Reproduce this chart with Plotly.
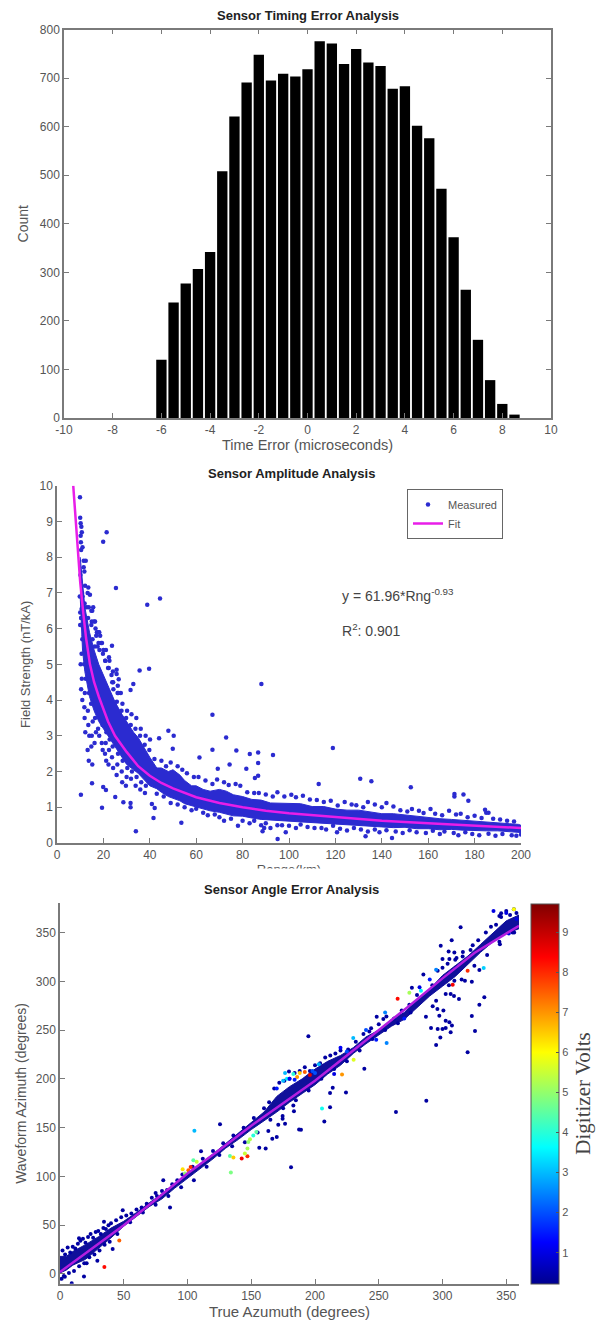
import plotly.graph_objects as go

# ---------- panel 1: histogram ----------
hist_centers = [-6,-5.5,-5,-4.5,-4,-3.5,-3,-2.5,-2,-1.5,-1,-0.5,0,0.5,1,1.5,2,2.5,3,3.5,4,4.5,5,5.5,6,6.5,7,7.5,8,8.5]
hist_counts = [120,238,277,307,342,508,621,691,748,695,709,703,718,776,771,729,760,732,725,678,683,602,576,472,372,264,161,78,29,7]
hist_xticks = [-10,-8,-6,-4,-2,0,2,4,6,8,10]
hist_xlabels = ["-10","-8","-6","-4","-2","0","2","4","6","8","10"]
hist_yticks = [0,100,200,300,400,500,600,700,800]

# ---------- panel 2: amplitude ----------
amp_xticks = [0,20,40,60,80,100,120,140,160,180,200]
amp_yticks = [0,1,2,3,4,5,6,7,8,9,10]
fit_x = [7,8,9,10,11.3,12.5,14.2,16,18,20,22,25,30,35,40,45,50,60,70,80,90,100,120,140,160,180,200]
fit_y = [10,9.1,8.2,7.3,6.45,5.75,5.0,4.5,4.1,3.75,3.4,3.0,2.55,2.15,1.88,1.68,1.53,1.28,1.12,1.0,.9,.83,.72,.62,.55,.48,.42]
band_x = [10,11,12,14,16,18,20,22,25,28,30,33,35,38,40,43,45,48,50,53,55,58,60,63,66,70,73,76,80,84,88,92,96,100,105,110,115,120,125,130,135,140,145,150,155,160,165,170,175,180,185,190,195,199,200.5]
band_hi = [8.0,7.3,6.6,5.9,5.4,5.0,4.7,4.4,3.95,3.6,3.4,3.1,2.95,2.6,2.4,2.1,2.1,2.0,2.05,1.9,1.75,1.6,1.6,1.5,1.45,1.5,1.45,1.35,1.3,1.22,1.2,1.12,1.12,1.1,1.1,1.02,1.02,.95,.92,.92,.88,.82,.82,.78,.76,.72,.68,.66,.64,.6,.58,.56,.54,.52,.48]
band_lo = [6.9,5.4,4.8,4.1,3.7,3.4,3.2,3.0,2.7,2.4,2.2,2.05,1.95,1.75,1.6,1.52,1.42,1.3,1.25,1.18,1.1,1.05,1.02,.96,.9,.86,.82,.76,.75,.7,.66,.65,.62,.62,.58,.56,.54,.54,.5,.48,.47,.45,.43,.44,.4,.4,.37,.38,.36,.34,.34,.34,.32,.3,.29]
meas_x = [9.9,21.4,19.9,25.4,38.9,44.4,23.7,35.6,39.7,25.7,25.7,26.6,32.9,31.7,26.4,88.1,67,72.9,48,50.3,44,49.9,67,77.3,83.1,86.7,93.1,61.4,86.7,74.4,69.3,81.6,86.7,85.3,10.3,15.1,19.4,19.9,21.1,25.1,28.6,31.7,31.7,34,41.6,40.9,42.1,53.6,95.1,98.6,88.6,89.3,118.9,112.8,130.7,135.5,152.5,171.3,171.3,175.2,177.3,144.4,133,120.7,184.5,186]
meas_y = [9.68,8.7,8.43,7.14,6.67,6.84,5.52,4.83,4.88,4.85,4.73,4.58,4.45,4.28,4.2,4.45,3.59,2.95,3.14,3,2.93,2.64,2.61,2.59,2.49,2.53,2.46,2.39,2.24,2.2,2.08,2.08,1.88,1.82,1.35,1.67,.99,1.57,1.48,1.29,1.14,1.12,1,.33,.7,1.09,.98,.57,.11,.3,.33,.42,2.66,1.65,1.8,1.73,1.56,1.37,1.3,1.36,1.18,.14,.19,.3,.93,.85]
# points read around the dense left cloud
left_x = [10,10.2,10.5,10.2,10.7,10.3,11,11.5,10.4,12.4,11.5,13.5,14.2,10,10.6,9.8,11.7,10,10.4,11,12.8,14.8,15.6,15,16.6,17.2,16,17.8,18.6,17.5,19,20,20.8,22.4,22,23.5,24.2,26.2,27.5,10.1,10.8,10.5,10.3,10.9,10.6,10.2,10.7,10.4,10.9,11.8,12.1,11.9,12.3,11.6,12.2,11.7,12.4,12,11.8,11.9,12.2,13.2,13.7,13.4,13.9,13.1,13.6,13.8,13.3,13.5,13.9,13.2,13.7,15.2,14.8,15.3,14.9,15.1,14.7,15.4,15,14.8,15.2,16.4,16.9,16.3,16.7,16.4,16.8,16.2,18.2,17.9,18.3,18.1,17.7,18.2,19.4,19.8,19.6,19.3,19.7,21.1,20.8,21.3,21,20.7,21.2,22.6,22.3,22.7,22.4,22.2,24.1,23.8,24.3,24,23.7,24.2,26.1,25.8,26.3,26,25.7,28.2,27.8,28.3,27.9,28.1,30.2,29.8,30.3,30,29.7,32.1,31.8,32.3,31.9,34.2,33.8,34.3,33.9,36.1,35.8,36.3,35.9,38.2,37.8,38.3,37.9,40.1,39.8]
left_y = [9.1,8.95,8.85,8.6,8.7,8.42,8.28,7.9,8.2,7.9,7.72,7.15,6.95,6.45,6.55,6.9,6.6,6.1,6.3,6.9,6.6,6.5,6.6,6.2,6.0,5.9,6.2,5.9,5.8,5.5,5.6,5.4,5.1,5.2,4.9,4.7,4.5,4.4,4.2,7.5,7.0,6.3,6.1,5.7,5.3,5.0,4.6,4.3,4.0,7.6,7.2,6.7,6.2,5.8,5.4,5.0,4.6,4.2,3.8,3.5,3.1,7.0,6.6,6.3,5.7,5.2,4.7,4.2,3.7,3.3,3.0,2.6,2.3,6.5,6.1,5.7,5.2,4.4,3.9,3.4,3.0,2.7,2.2,6.2,5.8,5.5,4.0,3.5,3.1,2.8,5.9,5.6,5.4,3.7,3.2,3.0,5.6,5.3,3.3,2.8,2.6,5.4,5.1,3.1,2.8,2.5,2.3,5.1,4.9,2.9,2.6,2.2,4.8,4.5,4.3,2.7,2.4,2.1,4.2,3.95,2.5,2.2,1.9,3.9,3.7,2.3,2.0,1.7,3.7,3.5,2.1,1.85,1.6,3.6,3.3,2.0,1.8,3.5,3.2,1.85,1.6,3.2,3.0,1.7,1.5,3.0,2.75,1.6,1.4,2.9,2.6]
# points read along the top and bottom edges of the long tail
edge_x = [42,45,47,49,52,54,56,59,61,64,67,69,72,74,77,79,82,85,87,90,93,95,98,101,103,106,109,112,115,118,121,124,127,129,132,134,137,140,142,145,148,151,153,156,158,161,163,166,169,172,174,177,180,183,185,188,191,194,197,
  43,46,49,52,55,58,60,63,65,68,70,72,75,78,80,83,85,88,90,92,95,97,100,103,105,108,111,114,116,119,122,125,128,131,134,137,139,142,146,149,152,155,159,162,165,167,171,173,176,179,182,186,189,192,196,198,200]
edge_y = [2.35,2.3,2.15,2.25,2.15,2.05,1.95,1.85,1.85,1.75,1.65,1.78,1.7,1.62,1.65,1.6,1.42,1.4,1.4,1.36,1.3,1.42,1.3,1.35,1.28,1.32,1.22,1.2,1.15,1.18,1.05,1.15,1.08,1.06,1.0,1.15,1.08,1.0,1.12,1.02,.92,.88,.95,.9,.84,.95,.82,.78,.9,.8,.82,.72,.76,.7,.85,.68,.66,.62,.6,
  1.38,1.3,1.12,1.08,1.0,.92,.96,.85,.78,.8,.72,.62,.68,.48,.62,.55,.62,.5,.55,.42,.5,.5,.48,.42,.52,.45,.42,.42,.38,.48,.4,.35,.42,.38,.32,.38,.3,.36,.32,.28,.36,.3,.28,.34,.25,.32,.28,.22,.3,.25,.22,.26,.2,.25,.22,.2,.24]
meas_all_x = meas_x + left_x + edge_x
meas_all_y = meas_y + left_y + edge_y

# ---------- panel 3: azimuth ----------
az_xticks = [0,50,100,150,200,250,300,350]
az_yticks = [0,50,100,150,200,250,300,350]
cbar_ticks = [1,2,3,4,5,6,7,8,9]
line_x = [0,25,50,75,100,125,150,175,200,225,250,275,300,325,360]
line_y = [2,26,50,76,103,127,152,175,198,224,250,276,303,329,357]
core_x = [0,5,10,20,30,40,50,60,70,80,90,100,110,120,130,140,150,160,170,180,190,200,210,220,230,240,250,260,270,280,290,300,310,320,330,340,350,360]
core_hi = [18,18,23,30,38,47,54,63,73,82,92,103,113,123,134,145,155,166,182,192,200,210,218,224,232,243,250,261,268,281,292,306,316,326,338,350,362,368]
core_lo = [1,4,9,15,26,37,49,59,69,77,88,98,108,118,129,138,148,157,166,176,185,194,205,214,226,236,245,254,261,273,285,295,305,318,330,341,349,354]
# dark outliers and edge points (volts about 0.4)
nav_x = [125.5,110.6,81,86.3,75,49.2,34.5,14.9,41.3,18.8,9.2,1.3,3.8,29.3,20.9,181.2,156.3,161.3,166.5,170,163.4,176.5,171.2,174.6,174.6,187.5,183.5,183,179.6,
  194.8,189,207.3,211.8,211.8,213.9,224.3,238.7,248.4,253.6,242.6,263.5,287.3,276,285,
  298.6,307.2,314.2,323.7,304.8,309.3,300,305.4,311,315.8,296.2,310.6,317.6,323,328.9,309.3,328.9,332.8,323,325.5,319.7,312.9,302.5,306.4,309,292.3,296,300.7,297.5,287,302.5,305.4,307.4,291,296.2,300,302.5,306.4,298.3,295,344.6,346,356.2,344.6,
  2,4,6,8,10,12,14,16,18,20,22,24,26,28,30,32,34,36,38,40,44,48,52,56,60,64,68,72,76,80,84,88,92,96,104,112,120,128,136,144,152,160,164,168,172,176,180,184,188,192,196,200,204,208,212,216,220,226,232,238,244,250,256,262,268,274,280,292,300,304,310,316,322,328,334,338,342,346,350,353,356,358,
  3,7,11,15,19,23,27,31,35,39,45,55,65,75,85,95,105,115,125,135,145,155,165,175,185,195,205,215,225,235,245,255,265,275,295,305,315,325,335,345,355]
nav_y = [153.4,125.8,96,68,83,65.4,53.5,36.5,25.6,-2.7,-9.5,-5,-3,13.6,11,109.4,129.5,128.5,138.7,140.4,146.6,154,153,159,162,148,166.7,172.8,207.6,
  243.7,147.9,156.4,171,185.4,190.9,186,210.3,263.8,261.4,248.5,166,177.6,293.5,307,
  336.4,342.2,355.5,337,330.6,329.6,322.8,322.8,324,325.5,310.8,314.3,300.6,299.6,311.5,300.6,276,283.6,264.5,249,227.3,281.9,287,287,285,274.4,271.6,270,264.8,263.8,259.7,258,254.6,252.2,251.2,251.2,252.2,247.8,242.3,234.8,367,369.8,350,340.5,
  24,20,27,22,28,26,31,34,36,32,38,41,37,43,44,41,47,46,50,52,55,58,60,62,66,68,72,78,80,85,86,92,96,102,110,118,126,134,142,150,160,170,176,190,196,198,200,206,208,212,208,214,216,222,224,226,229,230,238,246,252,256,264,262,270,276,286,296,314,318,322,330,332,342,350,356,358,366,372,368,374,370,
  -2,1,3,8,11,17,20,24,30,33,41,53,63,71,80,89,96,110,122,131,135,145,158,170,178,188,200,210,218,229,241,250,257,268,280,296,302,316,327,338,350]
# coloured points with their volts
col_x = [105.4,34.8,46.5,176.5,96.2,100.7,102.5,107.2,104.6,98,133.3,136,142.5,147,145,147,147.7,151.6,154,134,149,205.5,221.2,230.3,256.2,264.8,274,283.1,332.3,319.7,308,356,
  170,175,178,183,186,188,192,196,198,203,200,180,184,215,220,225,230,240,248,255,270,282,290,295,340,350,358,352]
col_y = [146.9,7.2,34.4,206,107.4,106.3,109.7,114.9,116.6,103,121,119.3,118.3,120.7,123.4,128.5,135.3,142,145.5,104,138,169.7,204.5,219.5,236.9,282.2,288.3,290.4,313.6,310.8,296.5,373.9,
  190,198,200,205,202,206,207,204,208,215,206,200,199,205,232,228,242,250,240,268,262,294,302,312,372,370,364,349]
col_v = [3,8.3,7.5,3,6.3,7.5,8,5.5,4.5,5,4.5,6.5,8.5,8,5.5,5.2,5,4,4.5,4.8,5.3,3.8,7,5.7,2.5,8.3,5.2,3.6,3.2,8,8.5,6,
  1.5,3,3.5,4,7,6.5,7.5,8.7,2,3,2,1.2,1.5,1,1.2,2,3,2,1.5,2.5,1.5,1,1.5,2.5,1,1,1,1]
nav_v = [0.4] * len(nav_x)
jet = [[0,"rgb(0,0,143)"],[.11,"rgb(0,0,255)"],[.36,"rgb(0,255,255)"],[.61,"rgb(255,255,0)"],[.86,"rgb(255,0,0)"],[1,"rgb(128,0,0)"]]

W, H = 600, 1323
AX = "#7a7a7a"
TXT = "#555555"
SANS = "Liberation Sans"
dom_x = lambda a, b: [a / W, b / W]
dom_y = lambda top, bot: [1 - bot / H, 1 - top / H]

fig = go.Figure()
fig.add_trace(go.Bar(x=hist_centers, y=hist_counts, marker_color="black", marker_line_width=0,
                     xaxis="x", yaxis="y", showlegend=False))
BLUE = "#2b2bd0"
fig.add_trace(go.Scatter(x=band_x + band_x[::-1], y=band_hi + band_lo[::-1], mode="lines", fill="toself",
                         fillcolor=BLUE, line=dict(color=BLUE, width=1), xaxis="x2", yaxis="y2",
                         showlegend=False, hoverinfo="skip"))
fig.add_trace(go.Scatter(x=meas_all_x, y=meas_all_y, mode="markers", name="Measured",
                         marker=dict(color=BLUE, size=4.5, line=dict(width=0)), xaxis="x2", yaxis="y2"))
fig.add_trace(go.Scatter(x=fit_x, y=fit_y, mode="lines", name="Fit", line=dict(color="#e81ee8", width=2.5),
                         xaxis="x2", yaxis="y2"))
fig.add_trace(go.Scatter(x=core_x + core_x[::-1], y=core_hi + core_lo[::-1], mode="lines", fill="toself",
                         fillcolor="#10109a", line=dict(color="#10109a", width=1), xaxis="x3", yaxis="y3",
                         showlegend=False, hoverinfo="skip"))
fig.add_trace(go.Scatter(x=nav_x + col_x, y=nav_y + col_y, mode="markers", showlegend=False, xaxis="x3", yaxis="y3",
                         marker=dict(color=nav_v + col_v, size=4, cmin=0.23, cmax=9.72, colorscale=jet, line=dict(width=0),
                                     colorbar=dict(x=531 / W, xanchor="left", xpad=0, y=1 - 1093.5 / H, yanchor="middle",
                                                   ypad=0, len=380.4 / H, lenmode="fraction", thickness=28,
                                                   thicknessmode="pixels", outlinecolor="#555", outlinewidth=1,
                                                   tickvals=cbar_ticks, ticks="inside", ticklen=3, tickcolor="#555",
                                                   tickfont=dict(family=SANS, size=11, color=TXT),
                                                   title=dict(text="Digitizer Volts", side="right",
                                                              font=dict(family="Liberation Serif", size=21, color="#444"))))))
fig.add_trace(go.Scatter(x=line_x, y=line_y, mode="lines", line=dict(color="#b31fe0", width=2.5), xaxis="x3", yaxis="y3",
                         showlegend=False))

def axis(dom, rng, ticks, title, standoff, anchor, size=13, mirror=False, labels=None):
    return dict(domain=dom, range=rng, tickvals=ticks, ticktext=labels, anchor=anchor, showgrid=False, zeroline=False,
                showline=True, linecolor=AX, linewidth=1.5, ticks="inside", ticklen=5, tickcolor=AX, automargin=False,
                mirror="ticks" if mirror else False, tickfont=dict(family=SANS, size=12, color=TXT),
                title=dict(text=title, standoff=standoff, font=dict(family=SANS, size=size, color=TXT)))

layout = dict(width=W, height=H, autosize=False, margin=dict(l=0, r=0, t=0, b=0, autoexpand=False),
              paper_bgcolor="white", plot_bgcolor="white", bargap=0.15, barmode="overlay",
              xaxis=axis(dom_x(64, 551), [-10, 10], hist_xticks, "Time Error (microseconds)", 4, "y", 14.5, True, hist_xlabels),
              yaxis=axis(dom_y(29.5, 418), [0, 800], hist_yticks, "Count", 8, "x", 14, True),
              xaxis2=axis(dom_x(57, 521), [0, 200], amp_xticks, "Range(km)", 4, "y2", 13),
              yaxis2=axis(dom_y(485.7, 843), [0, 10], amp_yticks, "Field Strength (nT/kA)", 6, "x2", 13),
              xaxis3=axis(dom_x(60, 519), [0, 360], az_xticks, "True Azumuth (degrees)", 4, "y3", 15),
              yaxis3=axis(dom_y(903.3, 1283.7), [-10, 380], az_yticks, "Waveform Azimuth (degrees)", 6, "x3", 14),
              legend=dict(x=407 / W, y=1 - 489 / H, xanchor="left", yanchor="top", bgcolor="white", bordercolor="#666",
                          borderwidth=1, font=dict(family=SANS, size=11, color=TXT), itemwidth=30, tracegroupgap=0),
              annotations=[
                  dict(text="<b>Sensor Timing Error Analysis</b>", x=308 / W, y=1 - 16 / H),
                  dict(text="<b>Sensor Amplitude Analysis</b>", x=291 / W, y=1 - 473 / H),
                  dict(text="<b>Sensor Angle Error Analysis</b>", x=291 / W, y=1 - 889 / H),
              ])
for a in layout["annotations"]:
    a.update(xref="paper", yref="paper", yanchor="middle", showarrow=False, font=dict(family=SANS, size=13, color="#222"))
fig.update_layout(**layout)
fig.add_annotation(text="y = 61.96*Rng<sup>-0.93</sup>", x=340 / W, y=1 - 595 / H, xref="paper", yref="paper", xanchor="left",
                   yanchor="middle", showarrow=False, font=dict(family=SANS, size=14, color="#444"))
fig.add_annotation(text="R<sup>2</sup>: 0.901", x=340 / W, y=1 - 630 / H, xref="paper", yref="paper", xanchor="left",
                   yanchor="middle", showarrow=False, font=dict(family=SANS, size=14, color="#444"))
# the reference cuts the lower part of the range label off
fig.add_annotation(text=" ", x=290 / W, y=1 - 868 / H, yanchor="top", xref="paper", yref="paper", showarrow=False,
                   width=130, height=13, bgcolor="white", font=dict(size=10))
fig.write_html("out.html", config=dict(displayModeBar=False), post_script="document.body.style.margin='0';")
